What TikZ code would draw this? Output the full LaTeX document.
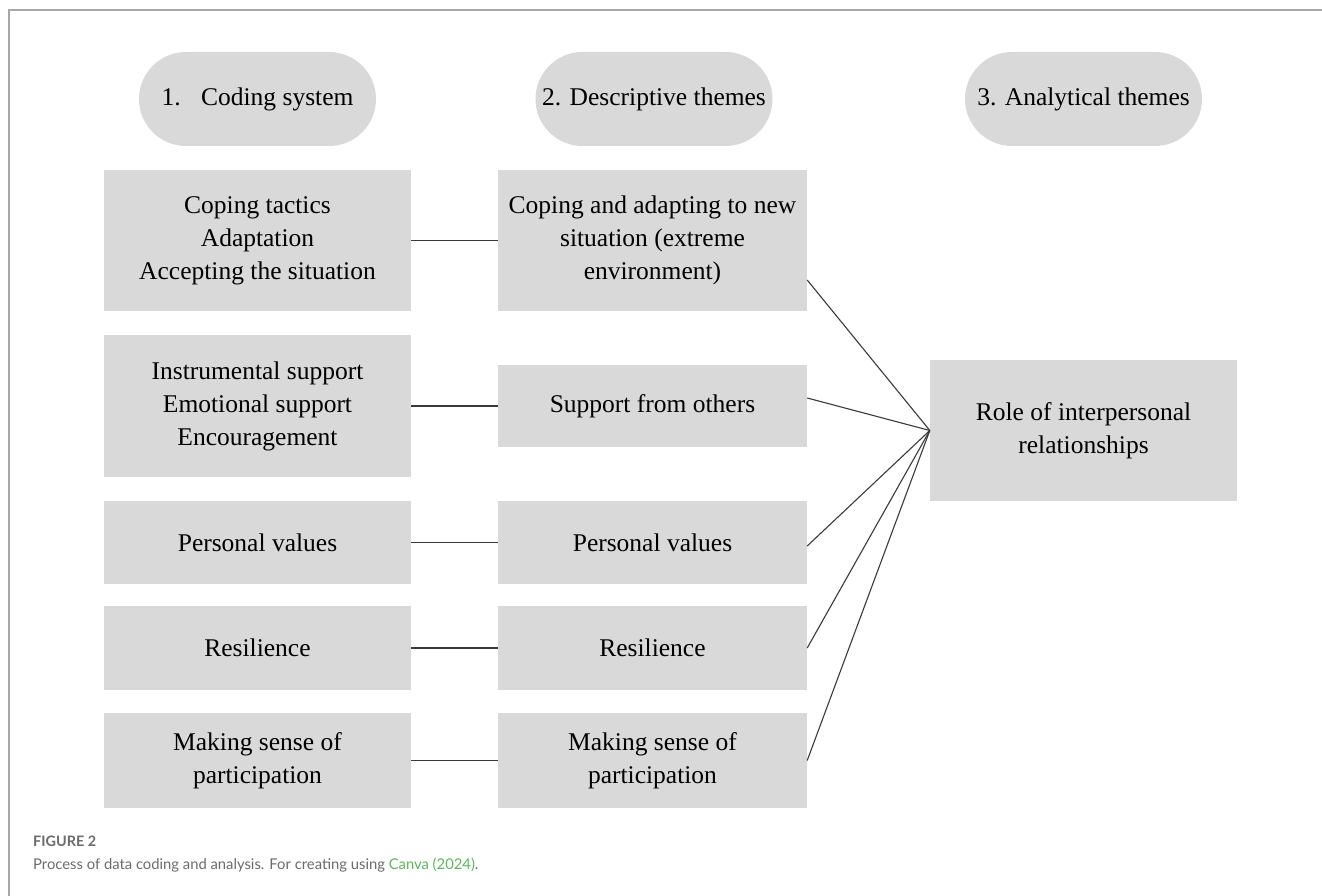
\documentclass[tikz,border=0pt]{standalone}
\usepackage{fontspec}
\setmainfont{Liberation Serif}
\newfontfamily\capfont{Lato}
\usetikzlibrary{calc,shapes.misc}
\definecolor{boxgray}{HTML}{D9D9D9}
\definecolor{framegray}{HTML}{A8A8A8}
\definecolor{capgray}{HTML}{6B6B6B}
\definecolor{capgreen}{HTML}{5DB85A}
\definecolor{linegray}{HTML}{3A3A3A}
\begin{document}
\begin{tikzpicture}[x=1pt,y=-1pt,
  box/.style={fill=boxgray, draw=none, inner sep=0pt, align=center,
    font=\fontsize{25.5}{33}\selectfont, text=black},
  pill/.style={box, rounded rectangle, minimum width=237pt, minimum height=94pt},
  link/.style={draw=linegray, line width=1.2pt},
  fan/.style={draw=linegray, line width=1.1pt}]
\useasboundingbox (0,0) rectangle (1322,896);
\fill[white] (0,0) rectangle (1322,896);
% frame
\draw[framegray, line width=1.2pt] (1322,10) -- (9,10) -- (9,896);
% headers
\node[pill] (h1) at (257.5,99) {1.\hspace{0.8em}Coding system};
\node[pill] (h2) at (654,99) {2. Descriptive themes};
\node[pill] (h3) at (1083.5,99) {3. Analytical themes};
% column 1
\node[box, minimum width=307pt, minimum height=141pt] (c1) at (257.5,240.5) {Coping tactics\\Adaptation\\Accepting the situation};
\node[box, minimum width=307pt, minimum height=142pt] (c2) at (257.5,406) {Instrumental support\\Emotional support\\Encouragement};
\node[box, minimum width=307pt, minimum height=83pt] (c3) at (257.5,542.5) {Personal values};
\node[box, minimum width=307pt, minimum height=84pt] (c4) at (257.5,648) {Resilience};
\node[box, minimum width=307pt, minimum height=95pt] (c5) at (257.5,760.5) {Making sense of\\participation};
% column 2
\node[box, minimum width=309pt, minimum height=141pt] (d1) at (652.5,240.5) {Coping and adapting to new\\situation (extreme\\environment)};
\node[box, minimum width=309pt, minimum height=82pt] (d2) at (652.5,406) {Support from others};
\node[box, minimum width=309pt, minimum height=83pt] (d3) at (652.5,542.5) {Personal values};
\node[box, minimum width=309pt, minimum height=84pt] (d4) at (652.5,648) {Resilience};
\node[box, minimum width=309pt, minimum height=95pt] (d5) at (652.5,760.5) {Making sense of\\participation};
% column 3
\node[box, minimum width=307pt, minimum height=141pt] (r) at (1083.5,430.5) {Role of interpersonal\\relationships};
% row links
\foreach \i in {1,...,5} {\draw[link] (c\i.east) -- (d\i.west);}
% fan
\draw[fan] ($(d1.east)+(0,39.5)$) -- (r.west);
\draw[fan] ($(d2.east)+(0,-8)$) -- (r.west);
\draw[fan] ($(d3.east)+(0,3.5)$) -- (r.west);
\draw[fan] (d4.east) -- (r.west);
\draw[fan] (d5.east) -- (r.west);
% caption
\node[anchor=base west, inner sep=0pt, text=capgray, font=\capfont\bfseries\fontsize{14.4}{16}\selectfont] (fig) at (33,846) {FIGURE 2};
\node[anchor=base west, inner sep=0pt, text=capgray, font=\capfont\fontsize{14.8}{20}\selectfont] (cap) at (33,869) {Process of data coding and analysis. For creating using \textcolor{capgreen}{Canva (2024)}.};
\end{tikzpicture}
\end{document}
